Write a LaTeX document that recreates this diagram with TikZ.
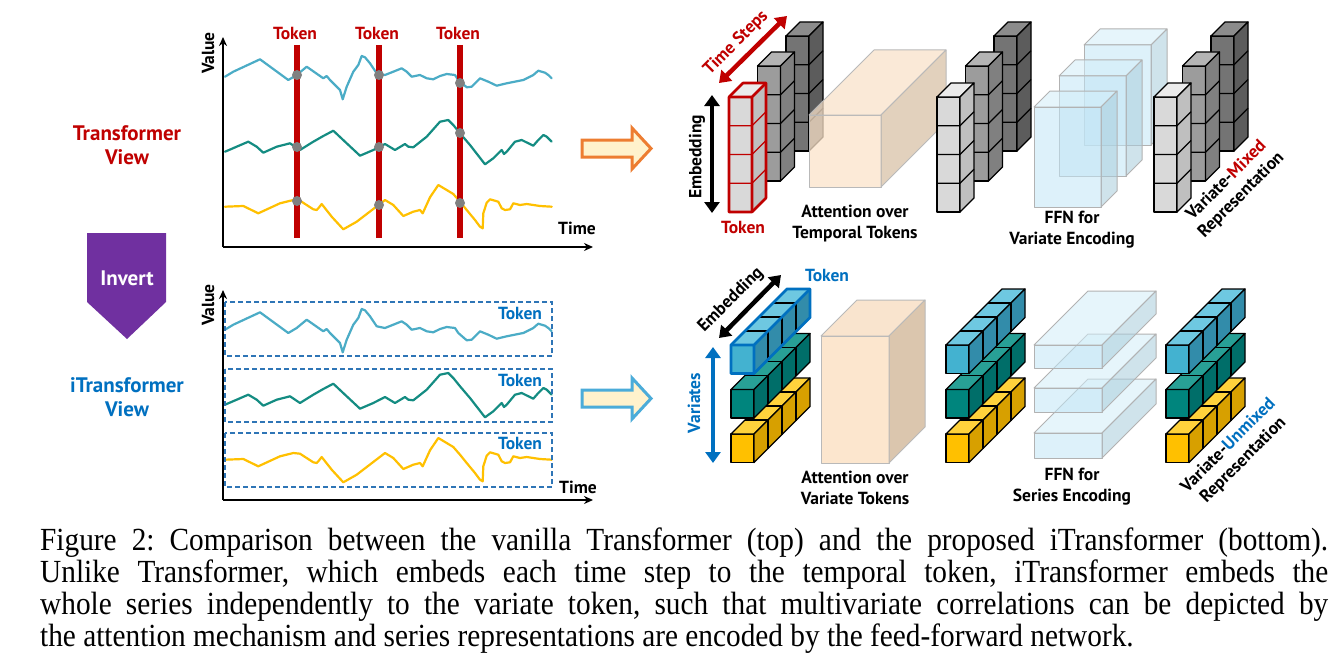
\documentclass[tikz,border=0pt]{standalone}
\usepackage{fontspec}
\setmainfont{Liberation Serif}
\newfontfamily\labfont{PT Sans}
\usetikzlibrary{arrows.meta}
\frenchspacing
\definecolor{tred}{HTML}{C00000}
\definecolor{tblue}{HTML}{0070C0}
\definecolor{dblue}{HTML}{2E75B6}
\definecolor{tpurple}{HTML}{7030A0}
\definecolor{scyan}{HTML}{4BACC6}
\definecolor{steal}{HTML}{148C82}
\definecolor{syellow}{HTML}{FFC000}
\definecolor{aorange}{HTML}{ED7D31}
\definecolor{acream}{HTML}{FFF2CC}
\definecolor{ablue}{HTML}{4BACD9}
\definecolor{gLf}{HTML}{D9D9D9}\definecolor{gLt}{HTML}{EBEBEB}\definecolor{gLs}{HTML}{BFBFBF}
\definecolor{gMf}{HTML}{9C9C9C}\definecolor{gMt}{HTML}{B4B4B4}\definecolor{gMs}{HTML}{808080}
\definecolor{gDf}{HTML}{747474}\definecolor{gDt}{HTML}{8C8C8C}\definecolor{gDs}{HTML}{5C5C5C}
\definecolor{cyF}{HTML}{43B2D0}\definecolor{cyT}{HTML}{6EC8E1}\definecolor{cyS}{HTML}{328CAA}
\definecolor{teF}{HTML}{00857D}\definecolor{teT}{HTML}{28A096}\definecolor{teS}{HTML}{006E69}
\definecolor{yeF}{HTML}{FFC000}\definecolor{yeT}{HTML}{FFD23C}\definecolor{yeS}{HTML}{D7A000}
\definecolor{peF}{HTML}{FCE4CA}\definecolor{peT}{HTML}{F9E2CA}\definecolor{peS}{HTML}{D9C2A8}
\definecolor{lbF}{HTML}{C2E6F6}\definecolor{lbT}{HTML}{D3EEF9}\definecolor{lbS}{HTML}{A9CDDC}
\tikzset{
 lab/.style={font=\labfont\bfseries\fontsize{17.5}{21}\selectfont, align=center, inner sep=0pt},
 biglab/.style={font=\labfont\bfseries\fontsize{21}{24}\selectfont, align=center, inner sep=0pt},
 captext/.style={font=\fontsize{29.3}{32}\selectfont, anchor=base west, inner sep=0pt},
 series/.style={line width=2.2pt, line join=round, line cap=round},
 tokbar/.style={tred, line width=6pt},
 graydot/.style={circle, fill=gray, inner sep=0pt, minimum size=10pt},
 axisline/.style={line width=1.6pt, -{Stealth[length=9pt,width=8pt]}},
 tokbox/.style={dblue, dash pattern=on 5pt off 3pt, line width=1.2pt},
 blockarrow/.style={line width=3pt, fill=acream, line join=miter},
 dbl/.style={line width=4.5pt, {Triangle[width=15pt,length=11pt]}-{Triangle[width=15pt,length=11pt]}},
 cubeedge/.style={draw=black, line width=1.3pt, line join=round},
 redge/.style={draw=tred, line width=1.3pt, line join=round},
 attn/.style={draw=gray!55, line width=1pt, line join=round, fill opacity=0.75},
 attnb/.style={draw=gray!55, line width=1pt, line join=round, fill opacity=0.92},
 ffn/.style={draw=gray!60, line width=1pt, line join=round, fill opacity=0.55},
}
\newcommand{\captall}[1]{\scalebox{1}[1.1]{#1}}
% prism: style, x, y, w, h, depth, front, top, side
\newcommand{\prism}[9]{%
  \path[#1, fill=#7] (#2,#3) rectangle ++(#4,#5);
  \path[#1, fill=#8] (#2,#3) -- ++(#6,-#6) -- ++(#4,0) -- ++(-#6,#6) -- cycle;
  \path[#1, fill=#9] (#2+#4,#3) -- ++(#6,-#6) -- ++(0,#5) -- ++(-#6,#6) -- cycle;
}
% vertical column of 4 cubes: x, y, front, top, side, edge style
\newcommand{\vcol}[6]{%
  \prism{#6}{#1}{#2}{23}{115}{14}{#3}{#4}{#5}
  \foreach \k in {1,2,3}{\draw[#6] (#1,#2+28.75*\k) -- ++(23,0) -- ++(14,-14);}
}
% row of 4 cubes along depth: x, y, front, top, side, edge style
\newcommand{\hrow}[6]{%
  \prism{#6}{#1}{#2}{23}{28.5}{56}{#3}{#4}{#5}
  \foreach \k in {1,2,3}{\draw[#6] (#1+14*\k,#2-14*\k) -- ++(23,0) -- ++(0,28.5);}
}
\newcommand{\vgroupback}[1]{%
  \vcol{#1+57}{36}{gDf}{gDt}{gDs}{cubeedge}
  \vcol{#1+28.5}{66}{gMf}{gMt}{gMs}{cubeedge}
}
\newcommand{\hgroup}[1]{%
  \hrow{#1}{434}{yeF}{yeT}{yeS}{cubeedge}
  \hrow{#1}{389.5}{teF}{teT}{teS}{cubeedge}
  \hrow{#1}{345}{cyF}{cyT}{cyS}{cubeedge}
}
\newcommand{\drawseries}{%
 \draw[series, scyan] plot coordinates {(225,76.7) (233.3,71.7) (260,59.3) (288.3,80) (296.7,75) (306.7,66.7) (323.3,78.3) (326.7,76) (330,80) (340,90) (342.7,99.3) (346.7,86.7) (353.3,71.7) (358.3,65) (361.7,56) (365,57.3) (370,63.3) (376.7,73.3) (385,75) (393.3,71.7) (401.7,68.3) (406.7,71.7) (411.7,76.7) (420,75) (426.7,78.3) (433.3,79.3) (440,76) (446.7,74) (455,75) (458.3,80) (466.7,87.3) (471.7,86.7) (480,78.3) (488.3,81.7) (496.7,85.7) (506.7,83.3) (523.3,80) (533.3,75) (538.3,70.7) (545,72.7) (548.3,75) (551.7,78.3)};
 \draw[series, steal] plot coordinates {(225,151.7) (248.3,141.7) (256.7,146.7) (263.3,152.7) (276.7,146.7) (290,143.3) (300,150) (313.3,141.7) (323.3,136) (333.3,130.7) (346.7,143.3) (360,155.7) (373.3,150) (385,144) (395,150) (405,144) (408.3,146.7) (413.3,147.3) (426.7,136.7) (440,121.7) (448.3,120) (453.3,125) (460,133.3) (470,145) (485,164.3) (493.3,158.3) (501.7,150) (504,154) (506.7,151.7) (515,141.7) (521.7,140) (533.3,145.7) (538.3,140) (543.3,135) (546.7,136.7) (551.7,141.7)};
 \draw[series, syellow] plot coordinates {(225,206.7) (243.3,206) (258.3,213.3) (280,203.3) (293.3,200) (300,200.7) (313.3,209.3) (316.7,210) (318.3,208.3) (321.7,204) (331.7,216.7) (343.3,229.3) (356.7,221.7) (385,200) (393.3,205) (403.3,216) (413.3,211.7) (420,210) (422.7,213.3) (430,197.3) (438.3,185) (446.7,190) (453.3,194) (460,201.7) (466.7,210) (475,220) (480,226.7) (482.7,228.3) (483.3,213.3) (486.7,202.7) (490,199.3) (498.3,201.7) (501.7,208.3) (505,210) (510,209.3) (513.3,203.3) (520,205) (526.7,204) (540,206) (551.7,206.7)};
}
\begin{document}
\begin{tikzpicture}[x=1pt,y=-1pt]
\useasboundingbox (0,0) rectangle (1341,661);
\fill[white] (0,0) rectangle (1341,661);

% ---------- left labels ----------
\node[biglab, tred] (tv) at (127,145) {Transformer\\View};
\node[biglab, tblue] (itv) at (127,397) {iTransformer\\View};
\fill[tpurple] (87,233) -- (166,233) -- (166,302) -- (127,339) -- (87,302) -- cycle;
\node[biglab, white, font=\labfont\bfseries\fontsize{21}{24}\selectfont] (inv) at (127,278) {Invert};

% ---------- top chart ----------
\coordinate (o1) at (223,247);
\coordinate (y1) at (223,37);
\coordinate (x1) at (593,247);
\drawseries
\foreach \bx/\n in {297/1,379/2,460/3}{
  \coordinate (bt\n) at (\bx,45);
  \coordinate (bb\n) at (\bx,238);
  \draw[tokbar] (bt\n) -- (bb\n);
  \node[lab, tred] (tk\n) at (\bx-2,33) {Token};
}
\foreach \p/\q [count=\i] in {297/75,297/147,297/201,379/75,379/147,379/205,460/83,460/133,460/203}
  \node[graydot] (dt\i) at (\p,\q) {};
\draw[axisline] (o1) -- (y1);
\draw[axisline] (o1) -- (x1);
\node[lab, rotate=90] (val1) at (208,53) {Value};
\node[lab] (time1) at (577,228) {Time};

% ---------- bottom chart ----------
\coordinate (o2) at (223,500);
\coordinate (y2) at (223,290);
\coordinate (x2) at (593,500);
\begin{scope}[yshift=-253pt]
\drawseries
\end{scope}
\draw[tokbox] (225,302) rectangle (552,356);
\draw[tokbox] (225,369) rectangle (552,422);
\draw[tokbox] (225,433) rectangle (552,487);
\node[lab, tblue] (vt1) at (520,313) {Token};
\node[lab, tblue] (vt2) at (520,380) {Token};
\node[lab, tblue] (vt3) at (520,443) {Token};
\draw[axisline] (o2) -- (y2);
\draw[axisline] (o2) -- (x2);
\node[lab, rotate=90] (val2) at (208,305) {Value};
\node[lab] (time2) at (578,487) {Time};

% ---------- block arrows ----------
\draw[blockarrow, draw=aorange] (582,140) -- (632,140) -- (632,128) -- (651,148.5) -- (632,169) -- (632,157) -- (582,157) -- cycle;
\draw[blockarrow, draw=ablue] (582,390) -- (632,390) -- (632,378) -- (651,398.5) -- (632,419) -- (632,407) -- (582,407) -- cycle;

% ---------- top right: Transformer ----------
\vgroupback{729}
\vcol{729}{97}{gLf}{gLt}{gLs}{redge}
\draw[tred, line width=2.6pt, line join=round] (729,212) -- (729,97) -- ++(14,-14) -- ++(23,0) -- ++(0,115) -- ++(-14,14) -- cycle;
\draw[tred, line width=2.6pt] (729,97) -- ++(23,0) -- ++(14,-14) (752,97) -- (752,212);
\prism{attn}{809}{115}{72}{72}{65}{peF}{peT}{peS}
\vgroupback{937}
\vcol{937}{97}{gLf}{gLt}{gLs}{cubeedge}
\prism{ffn}{1084}{45}{67}{100}{16}{lbF}{lbT}{lbS}
\prism{ffn}{1059}{76}{67}{100}{16}{lbF}{lbT}{lbS}
\prism{ffn}{1034}{107}{67}{100}{16}{lbF}{lbT}{lbS}
\vgroupback{1154}
\vcol{1154}{97}{gLf}{gLt}{gLs}{cubeedge}

\coordinate (ea) at (712,95);
\coordinate (eb) at (712,213);
\draw[dbl, black] (ea) -- (eb);
\node[lab, rotate=90] (emb1) at (697,157) {Embedding};
\coordinate (ta) at (719,83);
\coordinate (tb) at (787,16);
\draw[dbl, tred] (ta) -- (tb);
\node[lab, tred, rotate=45] (ts) at (736,43) {Time Steps};
\node[lab, tred] (tok1) at (743,227) {Token};
\node[lab] (att1) at (855,224) {Attention over\\Temporal Tokens};
\node[lab] (ffn1) at (1072,230) {FFN for\\Variate Encoding};
\node[lab, rotate=45] (rep1) at (1234,188) {Variate-\textcolor{tred}{Mixed}\\Representation};

% ---------- bottom right: iTransformer ----------
\hgroup{731}
\draw[tblue, line width=2.8pt, line join=round] (731,373.5) -- (731,345) -- ++(56,-56) -- ++(23,0) -- ++(0,28.5) -- ++(-56,56) -- cycle;
\draw[tblue, line width=2.8pt, line join=round] (731,345) -- ++(23,0) -- ++(56,-56) (754,345) -- (754,373.5);
\prism{attnb}{821}{336}{68}{127}{36}{peF}{peT}{peS}
\hgroup{946}
\prism{ffn}{1034}{433}{68}{25}{54}{lbF}{lbT}{lbS}
\prism{ffn}{1034}{388}{68}{24}{54}{lbF}{lbT}{lbS}
\prism{ffn}{1034}{345}{68}{23}{54}{lbF}{lbT}{lbS}
\hgroup{1166}

\coordinate (eb1) at (719,338);
\coordinate (eb2) at (781,275);
\draw[dbl, black] (eb1) -- (eb2);
\node[lab, rotate=45] (emb2) at (731,300) {Embedding};
\coordinate (va) at (713,347);
\coordinate (vb) at (713,463);
\draw[dbl, tblue] (va) -- (vb);
\node[lab, tblue, rotate=90] (vars) at (694,403) {Variates};
\node[lab, tblue] (tok2) at (827,275) {Token};
\node[lab] (att2) at (855,488) {Attention over\\Variate Tokens};
\node[lab] (ffn2) at (1072,487) {FFN for\\Series Encoding};
\node[lab, rotate=45] (rep2) at (1236,453) {Variate-\textcolor{tblue}{Unmixed}\\Representation};

% ---------- caption ----------
\node[captext] (c1) at (40,550) {\captall{\makebox[1288pt][s]{Figure 2: Comparison between the vanilla Transformer (top) and the proposed iTransformer (bottom).}}};
\node[captext] (c2) at (40,582) {\captall{\makebox[1288pt][s]{Unlike Transformer, which embeds each time step to the temporal token, iTransformer embeds the}}};
\node[captext] (c3) at (40,614) {\captall{\makebox[1288pt][s]{whole series independently to the variate token, such that multivariate correlations can be depicted by}}};
\node[captext] (c4) at (40,646) {\captall{the attention mechanism and series representations are encoded by the feed-forward network.}};
\end{tikzpicture}
\end{document}
